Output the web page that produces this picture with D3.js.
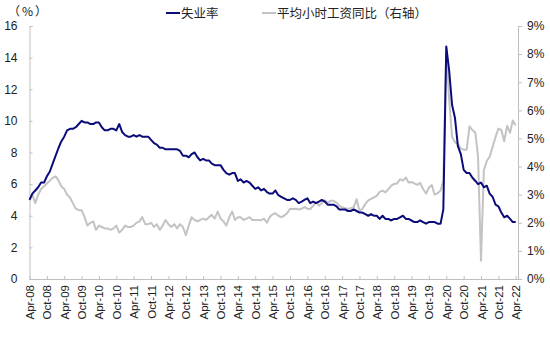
<!DOCTYPE html>
<html><head><meta charset="utf-8">
<script src="https://cdn.jsdelivr.net/npm/d3@7"></script>
<style>
body{margin:0;background:#fff;}
svg{display:block;font-family:"Liberation Sans",Arial,sans-serif;}
</style></head><body>
<svg id="c" width="550" height="338"></svg>
<script>
const startMonth = "2008-04";
const endMonth = "2022-04";
const unemployment = [
 5.0,5.4,5.6,5.8,6.1,6.1,6.5,6.8,7.3,
 7.8,8.3,8.7,9.0,9.4,9.5,9.5,9.6,9.8,10.0,9.9,9.9,
 9.8,9.8,9.9,9.9,9.6,9.4,9.4,9.5,9.5,9.4,9.8,9.3,
 9.1,9.0,9.0,9.1,9.0,9.1,9.0,9.0,9.0,8.8,8.6,8.5,
 8.3,8.3,8.2,8.2,8.2,8.2,8.2,8.1,7.8,7.8,7.7,7.9,
 8.0,7.7,7.5,7.6,7.5,7.5,7.3,7.2,7.2,7.2,6.9,6.7,
 6.6,6.7,6.7,6.2,6.3,6.1,6.2,6.1,5.9,5.7,5.8,5.6,
 5.7,5.5,5.4,5.4,5.6,5.3,5.2,5.1,5.0,5.0,5.1,5.0,
 4.8,4.9,5.0,5.1,4.8,4.9,4.8,4.9,5.0,4.9,4.7,4.7,
 4.7,4.6,4.4,4.4,4.4,4.3,4.3,4.4,4.3,4.2,4.2,4.1,
 4.0,4.1,4.0,4.0,3.8,4.0,3.8,3.8,3.7,3.8,3.8,3.9,
 4.0,3.8,3.8,3.7,3.6,3.6,3.7,3.6,3.5,3.6,3.6,3.6,
 3.5,3.5,4.4,14.7,13.2,11.0,10.2,8.4,7.9,6.9,6.7,6.7,
 6.4,6.2,6.0,6.1,5.8,5.9,5.4,5.2,4.7,4.6,4.2,3.9,
 4.0,3.8,3.6,3.6
];
const wageGrowth = [
 2.8,3.0,2.7,3.0,3.2,3.3,3.4,3.5,3.6,
 3.65,3.5,3.3,3.2,3.0,2.9,2.7,2.5,2.45,2.45,2.2,1.9,
 2.0,2.05,1.75,1.9,1.85,1.8,1.8,1.75,1.8,1.9,1.65,1.75,
 1.9,1.85,1.85,1.9,2.0,2.05,2.2,1.95,1.95,2.0,1.85,1.95,
 1.75,1.9,2.1,1.95,1.85,1.95,1.8,1.95,1.85,1.56,1.9,2.2,
 2.1,2.05,2.1,2.15,2.1,2.2,2.28,2.15,2.4,2.15,2.05,1.9,
 2.2,2.4,2.1,2.2,2.2,2.1,2.15,2.2,2.1,2.1,2.1,2.09,
 2.15,2.0,2.2,2.3,2.34,2.25,2.2,2.25,2.34,2.5,2.49,2.5,
 2.47,2.5,2.56,2.5,2.49,2.6,2.73,2.61,2.7,2.8,2.72,2.78,
 2.78,2.72,2.61,2.55,2.52,2.49,2.52,2.55,2.84,2.43,2.5,2.67,
 2.8,2.85,2.9,2.96,3.1,3.14,3.08,3.2,3.32,3.38,3.4,3.55,
 3.5,3.61,3.43,3.45,3.4,3.35,3.42,3.2,3.04,3.25,3.34,3.0,
 3.05,3.15,3.5,8.24,6.4,5.05,4.87,4.8,4.64,4.6,4.6,5.43,
 5.3,5.2,4.35,0.65,3.87,4.2,4.35,4.7,5.05,5.35,5.3,4.9,
 5.45,5.2,5.64,5.46
];
const leftTicks = [0,2,4,6,8,10,12,14,16];
const rightTicks = [0,1,2,3,4,5,6,7,8,9];
const legendLabels = ["失业率","平均小时工资同比（右轴）"];
const unitLabel = "（%）";

const parse = d3.timeParse("%Y-%m");
const t0 = parse(startMonth), t1 = parse(endMonth);
const months = d3.timeMonth.range(t0, d3.timeMonth.offset(t1,1));

const svg = d3.select("#c");
const x = d3.scaleTime().domain([t0,t1]).range([29.5,515.7]);
const yL = d3.scaleLinear().domain([0,16]).range([279,26]);
const yR = d3.scaleLinear().domain([0,9]).range([279,26]);
const axisColor = "#bfbfbf", textColor = "#222";

const gL = svg.append("g").attr("transform","translate(29.5,0)")
  .call(d3.axisLeft(yL).tickValues(leftTicks).tickSize(-3).tickPadding(12));
const gR = svg.append("g").attr("transform","translate(518,0)")
  .call(d3.axisRight(yR).tickValues(rightTicks).tickSize(4).tickPadding(5).tickFormat(d=>d+"%"));
const xTicks = d3.timeMonth.range(t0, d3.timeMonth.offset(t1,1), 6);
const gB = svg.append("g").attr("transform","translate(0,279)")
  .call(d3.axisBottom(x).tickValues(xTicks).tickSize(-3).tickFormat(d3.timeFormat("%b-%y")));
gB.select(".domain").attr("d","M29.5,0.5H518");
[gL,gR,gB].forEach(g=>{
  g.selectAll(".domain").attr("stroke",axisColor);
  g.selectAll(".tick line").attr("stroke",axisColor);
  g.selectAll("text").attr("fill",textColor).style("font-size","12px");
});
gL.selectAll("text").attr("x",-12);
gB.selectAll("text")
  .attr("transform","rotate(-90)")
  .attr("text-anchor","end")
  .attr("x",-6).attr("y",0).attr("dy","0.35em")
  .style("font-size","11.5px");

const lineL = d3.line().x((d,i)=>x(months[i])).y(d=>yL(d));
const lineR = d3.line().x((d,i)=>x(months[i])).y(d=>yR(d));
svg.append("path").datum(wageGrowth).attr("d",lineR)
  .attr("fill","none").attr("stroke","#c3c3c3").attr("stroke-width",2).attr("stroke-linejoin","round");
svg.append("path").datum(unemployment).attr("d",lineL)
  .attr("fill","none").attr("stroke","#0b0b7a").attr("stroke-width",2).attr("stroke-linejoin","round");

svg.append("text").attr("x",8).attr("y",16).text(unitLabel)
  .attr("fill",textColor).style("font-size","12px").style("letter-spacing","2px")
  .style("font-family","'Noto Sans CJK SC',sans-serif");

const leg = svg.append("g").style("font-family","'Noto Sans CJK SC',sans-serif").style("font-size","12.5px");
leg.append("line").attr("x1",166).attr("x2",180).attr("y1",13).attr("y2",13).attr("stroke","#0b0b7a").attr("stroke-width",2);
leg.append("text").attr("x",181).attr("y",17.5).text(legendLabels[0]).attr("fill",textColor);
leg.append("line").attr("x1",262).attr("x2",276).attr("y1",13).attr("y2",13).attr("stroke","#c3c3c3").attr("stroke-width",2);
leg.append("text").attr("x",277).attr("y",17.5).text(legendLabels[1]).attr("fill",textColor);
</script>
</body></html>
